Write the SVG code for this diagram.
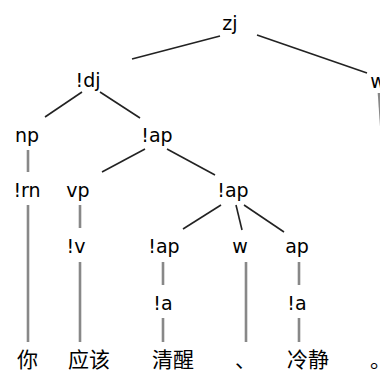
<svg xmlns="http://www.w3.org/2000/svg" width="380" height="373" viewBox="0 0 380 373">
<style>
.t{font-family:"DejaVu Sans","Liberation Sans",sans-serif;font-size:19px;fill:#000;text-anchor:middle}
.c{font-family:"Noto Sans CJK SC",sans-serif;font-size:21px;fill:#000}
.d{stroke:#222;stroke-width:1.6;fill:none}
.v{stroke:#888;stroke-width:2.6;fill:none}
</style>
<rect width="380" height="373" fill="#fff"/>
<g id="connectors">
<line class="d" x1="220" y1="36" x2="132" y2="59"/>
<line class="d" x1="257" y1="35" x2="367" y2="73"/>
<line class="d" x1="82" y1="92" x2="45" y2="117"/>
<line class="d" x1="100" y1="92" x2="140" y2="118"/>
<line class="d" x1="145" y1="149" x2="102" y2="172"/>
<line class="d" x1="167" y1="149" x2="215" y2="175"/>
<line class="d" x1="221" y1="205" x2="183" y2="229"/>
<line class="d" x1="236" y1="205" x2="242" y2="230"/>
<line class="d" x1="244" y1="205" x2="284" y2="232"/>
<line class="v" x1="28" y1="150" x2="28" y2="172"/>
<line class="v" x1="28" y1="205" x2="28" y2="342"/>
<line class="v" x1="80" y1="205" x2="80" y2="228"/>
<line class="v" x1="80" y1="262" x2="80" y2="342"/>
<line class="v" x1="163" y1="262" x2="163" y2="285"/>
<line class="v" x1="163" y1="318" x2="163" y2="342"/>
<line class="v" x1="246" y1="262" x2="246" y2="342"/>
<line class="v" x1="299" y1="262" x2="299" y2="285"/>
<line class="v" x1="299" y1="318" x2="299" y2="342"/>
<line class="v" x1="379" y1="93" x2="396" y2="342"/>
</g>
<g id="n-zj"><text class="t" x="230" y="30">zj</text></g>
<g id="n-w1"><text class="t" x="378" y="88">w</text></g>
<g id="n-dj"><text class="t" x="88" y="87">!dj</text></g>
<g id="n-np"><text class="t" x="27" y="142">np</text></g>
<g id="n-ap1"><text class="t" x="157" y="142">!ap</text></g>
<g id="n-rn"><text class="t" x="27" y="197">!rn</text></g>
<g id="n-vp"><text class="t" x="78" y="197">vp</text></g>
<g id="n-ap2"><text class="t" x="233" y="197">!ap</text></g>
<g id="n-v"><text class="t" x="76" y="253">!v</text></g>
<g id="n-ap3"><text class="t" x="164" y="253">!ap</text></g>
<g id="n-w2"><text class="t" x="240" y="253">w</text></g>
<g id="n-ap4"><text class="t" x="297" y="253">ap</text></g>
<g id="n-a1"><text class="t" x="163" y="310">!a</text></g>
<g id="n-a2"><text class="t" x="297" y="310">!a</text></g>
<g id="w-ni"><text class="c" x="17" y="367">你</text></g>
<g id="w-yinggai"><text class="c" x="68" y="367">应该</text></g>
<g id="w-qingxing"><text class="c" x="152" y="367">清醒</text></g>
<g id="w-dun"><text class="c" x="235" y="367">、</text></g>
<g id="w-lengjing"><text class="c" x="287" y="367">冷静</text></g>
<g id="w-ju"><text class="c" x="370" y="367">。</text></g>
</svg>
